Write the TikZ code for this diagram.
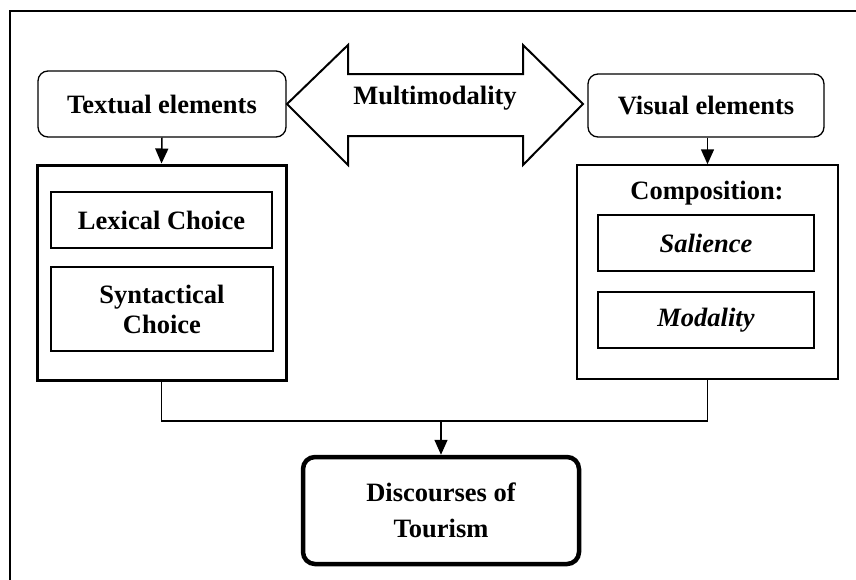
\documentclass[tikz,border=0pt]{standalone}
\usepackage{fontspec}
\setmainfont{Liberation Serif}
\usetikzlibrary{arrows.meta}
\begin{document}
\begin{tikzpicture}[x=1pt,y=-1pt,
  lbl/.style={font=\fontsize{26.5}{30}\selectfont\bfseries, align=center, inner sep=0pt},
  box/.style={lbl, draw, line width=1.3pt},
  rbox/.style={box, rounded corners=10pt},
  arr/.style={line width=1.5pt, -{Triangle[length=15pt,width=13pt]}},
  conn/.style={line width=1.3pt}]
\useasboundingbox (0,0) rectangle (856,579);
% outer frame
\draw[line width=1.5pt] (10,585) -- (10,11) -- (862,11);

% top boxes
\node[rbox, minimum width=248pt, minimum height=66pt] (txt) at (162,104) {Textual elements};
\node[rbox, minimum width=236pt, minimum height=63pt] (vis) at (706,105.5) {Visual elements};

% double arrow
\draw[line width=2pt, line join=miter] (287,104) -- (348,45) -- (348,74) -- (523,74) -- (523,45) -- (583,104)
  -- (523,165) -- (523,136) -- (348,136) -- (348,165) -- cycle;
\node[lbl] (mm) at (435,98) {Multimodality};

% left group
\node[draw, line width=3pt, minimum width=249pt, minimum height=215pt] (lgrp) at (161.5,272.5) {};
\node[box, minimum width=221pt, minimum height=56pt] (lex) at (161.5,220) {Lexical Choice};
\node[box, minimum width=222pt, minimum height=84pt] (syn) at (162,309) {Syntactical\\Choice};

% right group
\node[draw, line width=1.5pt, minimum width=261pt, minimum height=214pt] (rgrp) at (707.5,272) {};
\node[lbl] (comp) at (707,193) {Composition:};
\node[box, minimum width=216pt, minimum height=56pt] (sal) at (706,243) {\itshape Salience};
\node[box, minimum width=216pt, minimum height=56pt] (mod) at (706,320) {\itshape Modality};

% bottom
\node[box, line width=4.5pt, rounded corners=12pt, minimum width=276pt, minimum height=107pt,
  font=\fontsize{26.5}{36}\selectfont\bfseries] (disc) at (441,510.5) {Discourses of\\Tourism};

% connectors
\draw[arr] (txt.south) -- (lgrp.north);
\draw[arr] (vis.south -| rgrp.north) -- (rgrp.north);
\coordinate (j) at (441,421);
\draw[conn] (lgrp.south) |- (j) -| (rgrp.south);
\draw[arr] (j) -- (disc.north);
\end{tikzpicture}
\end{document}
